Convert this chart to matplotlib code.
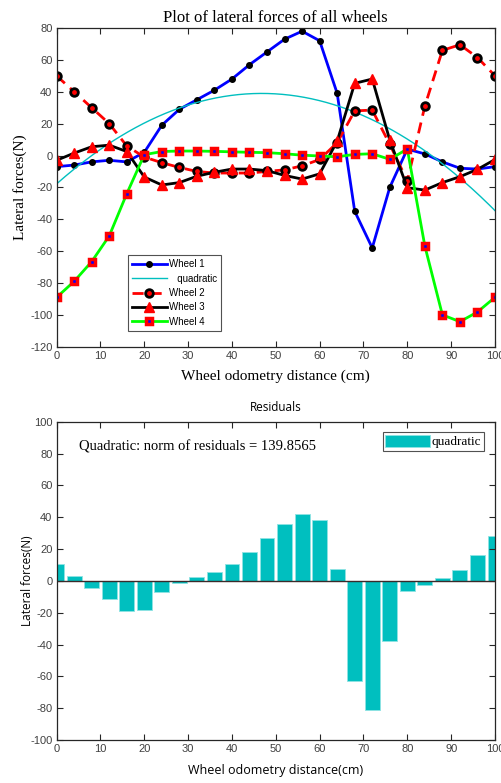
import numpy as np
import matplotlib
matplotlib.use("Agg")
import matplotlib.pyplot as plt

# odometry distance (cm) and lateral forces (N) per wheel
distance = [0, 4, 8, 12, 16, 20, 24, 28, 32, 36, 40, 44, 48, 52, 56, 60,
            64, 68, 72, 76, 80, 84, 88, 92, 96, 100]
wheel_1 = [-7, -6, -4, -3, -4, 2, 19, 29, 35, 41, 48, 57, 65, 73, 78, 72,
           39, -35, -58, -20, 4, 1, -4, -8, -8.5, -7]
wheel_2 = [50, 40, 30, 20, 6, -1, -4.5, -7.5, -10, -11, -11, -11, -10, -9, -6.5, -2.5,
           8, 28, 28.5, 7, -16, 31, 66, 69.5, 61.5, 50]
wheel_3 = [-3, 1.5, 5.5, 6.5, 2.5, -13.5, -18.5, -17, -13, -10.5, -8.5, -8.5, -9.5, -12.5, -14.8, -11.5,
           9, 45.3, 48, 9.7, -20.2, -21.7, -17, -13.3, -8.7, -2.5]
wheel_4 = [-89, -79, -66.6, -50.5, -24, 0.5, 2.5, 2.8, 2.8, 2.6, 2.3, 2, 1.8, 1.1, 0.2, -0.3,
           -0.8, 0.7, 1.1, -2.4, 4.1, -56.8, -100, -104.3, -98.2, -89]
residuals = [10.9, 3, -4.2, -11.1, -18.9, -18, -6.9, -1.3, 2.2, 5.7, 10.9, 18.2, 27, 35.8, 42, 38.2,
             7.4, -62.9, -81.1, -37.7, -6.5, -2.3, 1.5, 6.7, 16.2, 28.3]
norm_text = "Quadratic: norm of residuals = 139.8565"

plt.rcParams["axes.unicode_minus"] = False
serif = "Liberation Serif"
sans = "Liberation Sans"
cyan = "#00bfbf"
tick_color = "#404040"

quad_coeffs = np.polyfit(distance, wheel_1, 2)
fine_x = np.linspace(0, 100, 300)
quad_curve = np.polyval(quad_coeffs, fine_x)

fig = plt.figure(figsize=(5.01, 7.83), dpi=100)
ax_top = fig.add_axes([0.113, 0.5572, 0.875, 0.407])
ax_bot = fig.add_axes([0.113, 0.0549, 0.875, 0.4065])


def style_axes(axis, yticks):
    axis.set_xlim(0, 100)
    axis.set_xticks(np.arange(0, 101, 10))
    axis.set_yticks(yticks)
    axis.set_ylim(yticks[0], yticks[-1])
    axis.tick_params(direction="in", top=True, right=True, length=4, width=0.8,
                     color="#262626", labelcolor=tick_color, labelsize=8, pad=3)
    for label in axis.get_xticklabels() + axis.get_yticklabels():
        label.set_fontfamily(sans)
    for spine in axis.spines.values():
        spine.set_color("#262626")
        spine.set_linewidth(0.9)


# top panel
ax_top.plot(distance, wheel_1, color="blue", linewidth=2, marker="o", markersize=4,
            markerfacecolor="black", markeredgecolor="black", label="Wheel 1")
ax_top.plot(fine_x, quad_curve, color=cyan, linewidth=1, label="   quadratic")
ax_top.plot(distance, wheel_2, color="red", linewidth=2, linestyle=(0, (4, 2.5)), marker="o",
            markersize=5.5, markerfacecolor="red", markeredgecolor="black",
            markeredgewidth=2, label="Wheel 2")
ax_top.plot(distance, wheel_3, color="black", linewidth=2, marker="^", markersize=7,
            markerfacecolor="red", markeredgecolor="red", label="Wheel 3")
ax_top.plot(distance, wheel_4, color="#00ff00", linewidth=2, marker="s", markersize=4,
            markerfacecolor="blue", markeredgecolor="red", markeredgewidth=2.5, label="Wheel 4")
style_axes(ax_top, np.arange(-120, 81, 20))
ax_top.set_title("Plot of lateral forces of all wheels", fontfamily=serif, fontsize=12, pad=4)
ax_top.set_xlabel("Wheel odometry distance (cm)", fontfamily=serif, fontsize=11, labelpad=6)
ax_top.set_ylabel("Lateral forces(N)", fontfamily=serif, fontsize=11, labelpad=2)
leg = ax_top.legend(loc="lower left", bbox_to_anchor=(0.152, 0.035), prop={"family": sans, "size": 7},
                    frameon=True, fancybox=False, edgecolor="#262626", handlelength=3.6,
                    labelspacing=0.45, borderpad=0.4, handletextpad=0.2)
leg.get_frame().set_linewidth(0.8)

# bottom panel
ax_bot.bar(distance, residuals, width=3.4, color=cyan, edgecolor="#8fe3e3", linewidth=0.6,
           label="quadratic")
ax_bot.axhline(0, color="#3a2a2a", linewidth=1)
style_axes(ax_bot, np.arange(-100, 101, 20))
ax_bot.set_title("Residuals", fontfamily="Open Sans", fontsize=8.5, pad=8)
ax_bot.set_xlabel("Wheel odometry distance(cm)", fontfamily="Open Sans", fontsize=9, labelpad=7)
ax_bot.set_ylabel("Lateral forces(N)", fontfamily="Open Sans", fontsize=8.5)
ax_bot.yaxis.set_label_coords(-0.052, 0.5)
ax_bot.text(5, 84, norm_text, fontfamily=serif, fontsize=10.5, va="center", ha="left")
leg2 = ax_bot.legend(loc="upper right", bbox_to_anchor=(0.98, 0.975), prop={"family": serif, "size": 9.5},
                     frameon=True, fancybox=False, edgecolor="#262626", handlelength=3.4,
                     handleheight=1.0, borderpad=0.2, handletextpad=0.1, borderaxespad=0.2)
leg2.get_frame().set_linewidth(0.8)

fig.savefig("out.png", dpi=100)
